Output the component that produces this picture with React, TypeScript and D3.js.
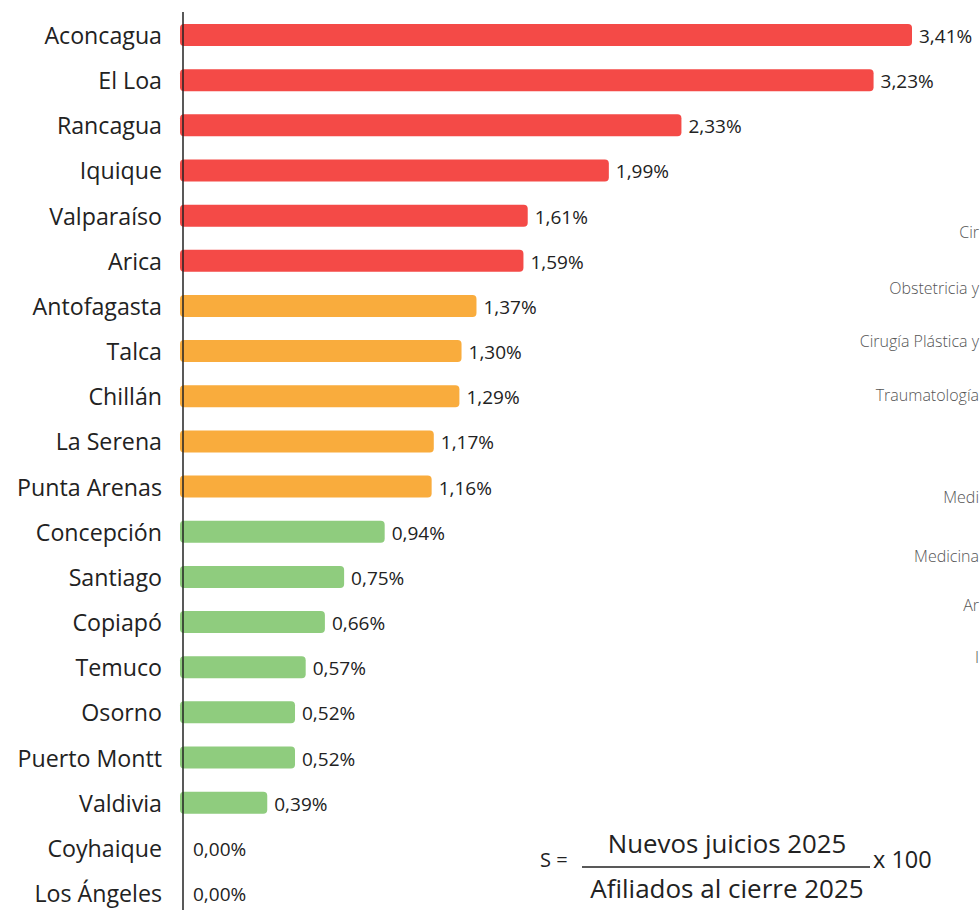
import React from "react";
import * as d3 from "d3";

// tasa de nuevos juicios por sede (%)
const sedes = [
  "Aconcagua", "El Loa", "Rancagua", "Iquique", "Valparaíso", "Arica",
  "Antofagasta", "Talca", "Chillán", "La Serena", "Punta Arenas",
  "Concepción", "Santiago", "Copiapó", "Temuco", "Osorno", "Puerto Montt",
  "Valdivia", "Coyhaique", "Los Ángeles",
];
const tasas = [
  3.41, 3.23, 2.33, 1.99, 1.61, 1.59,
  1.37, 1.30, 1.29, 1.17, 1.16,
  0.94, 0.75, 0.66, 0.57, 0.52, 0.52,
  0.39, 0.0, 0.0,
];
const cortes = [1.0, 1.5];
const colores = ["#8fcc7e", "#f9ac3d", "#f44a47"];

// fragmentos visibles del gráfico vecino (cortado en el borde derecho)
const especialidades = [
  "Cir", "Obstetricia y", "Cirugía Plástica y", "Traumatología",
  "Medi", "Medicina", "Ar", "I",
];
const espY = [232, 288, 341, 395, 497, 556, 605, 657];

const App = () => {
  const width = 980;
  const height = 910;
  const x0 = 184;

  const x = d3.scaleLinear().domain([0, 3.41]).range([x0, 912]);
  const y = d3.scalePoint<string>().domain(sedes).range([35, 893]);
  const color = d3.scaleThreshold<number, string>().domain(cortes).range(colores);
  const fmt = (v: number) => d3.format(".2f")(v).replace(".", ",") + "%";
  const barH = 22;
  const font = "'Open Sans', 'Noto Sans', sans-serif";

  return (
    <svg width={width} height={height} style={{ position: "absolute", left: 0, top: 0, background: "#fff" }}>
      {sedes.map((s, i) => (
        <g key={s}>
          {tasas[i] > 0 && (
            <rect x={x0 - 4} y={y(s)! - barH / 2} width={x(tasas[i]) - x0 + 4} height={barH}
              rx={4} fill={color(tasas[i])} />
          )}
          <text x={162} y={y(s)} textAnchor="end" dominantBaseline="central"
            fontFamily={font} fontSize={23.2} fill="#222">{s}</text>
          <text x={x(tasas[i]) + (tasas[i] > 0 ? 7 : 9)} y={y(s)! + 1} dominantBaseline="central"
            fontFamily={font} fontSize={19} fill="#222">{fmt(tasas[i])}</text>
        </g>
      ))}
      <line x1={183} x2={183} y1={12} y2={height} stroke="#222" strokeWidth={1.5} />

      {especialidades.map((e, i) => (
        <text key={e} x={979} y={espY[i]} textAnchor="end" dominantBaseline="central"
          fontFamily={font} fontSize={16} fontWeight={300} fill="#555">{e}</text>
      ))}

      <g fontFamily={font} fill="#222">
        <text x={540} y={867} fontSize={20}>S =</text>
        <text x={727} y={853} fontSize={25.8} textAnchor="middle">Nuevos juicios 2025</text>
        <line x1={582} x2={870} y1={867} y2={867} stroke="#222" strokeWidth={1.5} />
        <text x={873} y={868} fontSize={23.5}>x 100</text>
        <text x={727} y={898} fontSize={26} textAnchor="middle">Afiliados al cierre 2025</text>
      </g>
    </svg>
  );
};

export default App;
